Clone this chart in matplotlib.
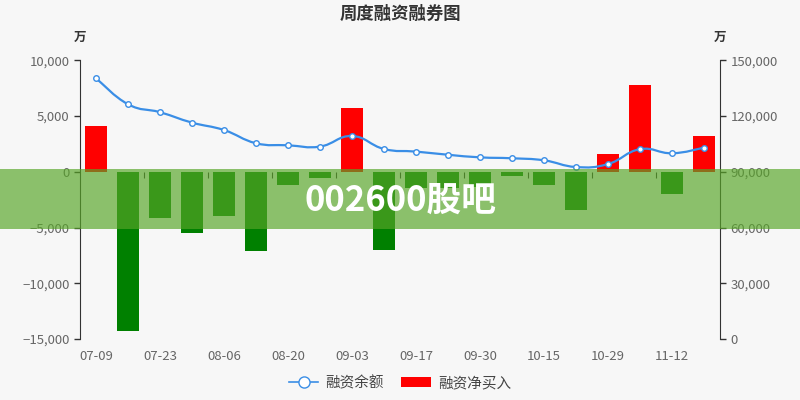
import numpy as np
import matplotlib
matplotlib.use("Agg")
import matplotlib.pyplot as plt
from matplotlib.path import Path
from matplotlib.patches import PathPatch, Rectangle
from matplotlib.lines import Line2D
from matplotlib.ticker import FuncFormatter, NullFormatter

plt.rcParams['font.family'] = ['Noto Sans CJK SC', 'DejaVu Sans']

# weekly dates
dates = ['07-09', '07-16', '07-23', '07-30', '08-06', '08-13', '08-20', '08-27',
         '09-03', '09-10', '09-17', '09-24', '09-30', '10-08', '10-15', '10-22',
         '10-29', '11-05', '11-12', '11-19']
# 融资净买入 (万)
net_buy = [4100, -14300, -4150, -5500, -4000, -7100, -1200, -550,
           5700, -7000, -1450, -1450, -1350, -350, -1200, -3400,
           1600, 7750, -2000, 3200]
# 融资余额 (万)
balance = [140400, 126400, 122100, 116500, 112500, 105400, 104300, 103600,
           109300, 102300, 100900, 99200, 97800, 97300, 96200, 92600,
           94200, 102200, 100000, 103000]

bg = '#f7f7f7'
line_c = '#3a8ee6'
axis_c = '#333333'
label_c = '#666666'

fig = plt.figure(figsize=(8, 4), dpi=100, facecolor=bg)
ax = fig.add_axes([0.1, 0.1525, 0.8, 0.6965])
ax.set_facecolor(bg)
ax2 = ax.twinx()

x = np.arange(len(dates))
colors = ['#ff0000' if v >= 0 else '#008000' for v in net_buy]
ax.bar(x, net_buy, width=0.69, color=colors, zorder=2)
ax.set_xlim(-0.5, len(dates) - 0.5)
ax.set_ylim(-15000, 10000)
ax.set_yticks(np.arange(-15000, 10001, 5000))

fmt = FuncFormatter(lambda v, p: '{:,}'.format(int(v)).replace('-', '\u2212'))
ax.yaxis.set_major_formatter(fmt)
ax.tick_params(axis='y', colors=axis_c, labelcolor=label_c, labelsize=9.5,
               length=4, width=1)

# x labels at bottom, every other category
ax.set_xticks(x[::2])
ax.set_xticklabels(dates[::2])
ax.tick_params(axis='x', length=0, labelcolor=label_c, labelsize=9.5, pad=8)
for s in ['top', 'right', 'bottom']:
    ax.spines[s].set_visible(False)
ax.spines['left'].set_color(axis_c)

# category axis line at zero
zero_frac = 15000 / 25000
sec = ax.secondary_xaxis(zero_frac)
sec.set_xticks(np.arange(1.5, len(dates) - 1, 2))
sec.xaxis.set_major_formatter(NullFormatter())
sec.xaxis.set_ticks_position('bottom')
sec.tick_params(axis='x', direction='out', length=4, color=axis_c,
                labelbottom=False, labeltop=False)
sec.spines['bottom'].set_color(axis_c)
sec.spines['bottom'].set_linewidth(1)
for s in ['top', 'left', 'right']:
    sec.spines[s].set_visible(False)

# balance line on right axis
ax2.set_ylim(0, 150000)
ax2.set_yticks(np.arange(0, 150001, 30000))
ax2.yaxis.set_major_formatter(fmt)
ax2.tick_params(axis='y', colors=axis_c, labelcolor=label_c, labelsize=9.5,
                length=4, width=1)
for s in ['top', 'left', 'bottom']:
    ax2.spines[s].set_visible(False)
ax2.spines['right'].set_color(axis_c)

# smoothed curve through the points (bezier segments)
pts = np.column_stack([x, balance]).astype(float)
k = 0.22
verts = [pts[0]]
codes = [Path.MOVETO]
for i in range(len(pts) - 1):
    p0 = pts[i - 1] if i > 0 else pts[i]
    p1 = pts[i]
    p2 = pts[i + 1]
    p3 = pts[i + 2] if i + 2 < len(pts) else pts[i + 1]
    c1 = p1 + (p2 - p0) * k
    c2 = p2 - (p3 - p1) * k
    verts += [c1, c2, p2]
    codes += [Path.CURVE4] * 3
ax2.add_patch(PathPatch(Path(verts, codes), facecolor='none', edgecolor=line_c,
                        lw=1.6, zorder=3))
ax2.plot(x, balance, linestyle='none', marker='o', markersize=4,
         markerfacecolor='white', markeredgecolor=line_c, markeredgewidth=1, zorder=4)

# unit labels
ax.text(0, 1.084, '万', transform=ax.transAxes, ha='center', va='center',
        fontsize=9, fontweight='bold', color=axis_c)
ax.text(1, 1.084, '万', transform=ax.transAxes, ha='center', va='center',
        fontsize=9, fontweight='bold', color=axis_c)

fig.text(0.5, 1 - 14 / 400, '周度融资融券图', ha='center', va='center',
         fontsize=12.5, fontweight='bold', color=axis_c)

handles = [
    Line2D([0], [0], color=line_c, lw=1.2, marker='o', markersize=8,
           markerfacecolor='white', markeredgecolor=line_c),
    Rectangle((0, 0), 1, 1, facecolor='#ff0000', edgecolor='none'),
]
fig.legend(handles, ['融资余额', '融资净买入'], loc='center',
           bbox_to_anchor=(0.5, 1 - 383 / 400), ncol=2, frameon=False,
           fontsize=10.5, handlelength=2.0, handletextpad=0.5, columnspacing=1.2,
           labelcolor='#444444')

# watermark band
fig.patches.append(Rectangle((0, 1 - 229 / 400), 1, 60 / 400, transform=fig.transFigure,
                             facecolor='#57a527', alpha=0.67, edgecolor='none', zorder=20))
fig.text(0.5, 1 - 200 / 400, '002600股吧', ha='center', va='center', fontsize=25,
         fontweight='black', color='white', zorder=21)

fig.savefig('out.png', dpi=100, facecolor=bg)
